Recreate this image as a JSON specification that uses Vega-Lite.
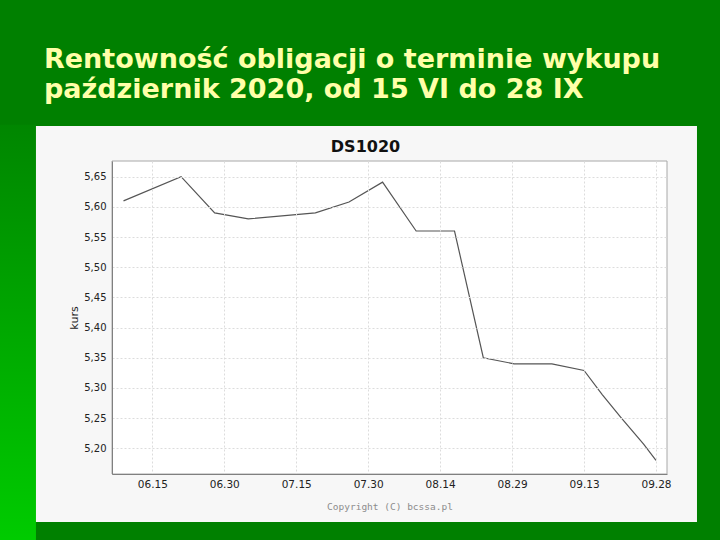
{
  "$schema": "https://vega.github.io/schema/vega-lite/v6.json",
  "width": 555,
  "height": 313,
  "autosize": {"type": "none"},
  "padding": {"left": 112, "top": 161, "right": 53, "bottom": 66},
  "background": "#008000",
  "config": {"view": {"stroke": null}},
  "title": {
    "text": ["Rentowność obligacji o terminie wykupu", "październik 2020, od 15 VI do 28 IX"],
    "anchor": "start",
    "frame": "group",
    "dx": -68,
    "dy": -21,
    "offset": 0,
    "font": "DejaVu Sans",
    "fontSize": 27,
    "fontWeight": "bold",
    "color": "#ffffa8",
    "lineHeight": 30
  },
  "datasets": {
    "notowania": [
      {"data": "2010-06-09T00:00:00", "kurs": 5.61},
      {"data": "2010-06-21T00:00:00", "kurs": 5.65},
      {"data": "2010-06-28T00:00:00", "kurs": 5.59},
      {"data": "2010-07-05T00:00:00", "kurs": 5.58},
      {"data": "2010-07-19T00:00:00", "kurs": 5.59},
      {"data": "2010-07-26T00:00:00", "kurs": 5.608},
      {"data": "2010-08-02T00:00:00", "kurs": 5.641},
      {"data": "2010-08-09T00:00:00", "kurs": 5.56},
      {"data": "2010-08-17T00:00:00", "kurs": 5.56},
      {"data": "2010-08-23T00:00:00", "kurs": 5.35},
      {"data": "2010-08-29T10:00:00", "kurs": 5.34},
      {"data": "2010-09-06T07:00:00", "kurs": 5.34},
      {"data": "2010-09-13T00:00:00", "kurs": 5.329},
      {"data": "2010-09-16T19:00:00", "kurs": 5.289},
      {"data": "2010-09-20T17:00:00", "kurs": 5.251},
      {"data": "2010-09-25T10:00:00", "kurs": 5.207},
      {"data": "2010-09-28T00:00:00", "kurs": 5.18}
    ]
  },
  "layer": [
    {
      "data": {"values": [{}]},
      "mark": {
        "type": "rect",
        "fill": {
          "gradient": "linear",
          "x1": 0, "y1": 0, "x2": 0, "y2": 1,
          "stops": [
            {"offset": 0, "color": "#008600"},
            {"offset": 1, "color": "#00cc00"}
          ]
        }
      },
      "encoding": {
        "x": {
          "datum": {"year": 2010, "month": 5, "date": 13},
          "type": "temporal",
          "scale": {"domain": [{"year": 2010, "month": 6, "date": 6, "hours": 14, "minutes": 24}, {"year": 2010, "month": 9, "date": 30, "hours": 7}]},
          "axis": null
        },
        "x2": {"datum": {"year": 2010, "month": 5, "date": 21, "hours": 18}},
        "y": {
          "datum": 5.736,
          "type": "quantitative",
          "scale": {"domain": [5.1574, 5.676], "nice": false, "zero": false},
          "axis": null
        },
        "y2": {"datum": 5.04}
      }
    },
    {
      "data": {"values": [{}]},
      "mark": {"type": "rect", "fill": "#f7f7f7"},
      "encoding": {
        "x": {
          "datum": {"year": 2010, "month": 5, "date": 21, "hours": 18},
          "type": "temporal",
          "scale": {"domain": [{"year": 2010, "month": 6, "date": 6, "hours": 14, "minutes": 24}, {"year": 2010, "month": 9, "date": 30, "hours": 7}]},
          "axis": {
            "orient": "top",
            "title": "DS1020",
            "labels": false,
            "ticks": false,
            "domain": false,
            "grid": false,
            "titleFont": "DejaVu Sans",
            "titleFontSize": 16,
            "titleFontWeight": "bold",
            "titleColor": "#111111",
            "titleX": 253,
            "titleY": -10,
            "titleBaseline": "alphabetic",
            "titleAlign": "center",
            "zindex": 1
          }
        },
        "x2": {"datum": {"year": 2010, "month": 10, "date": 6, "hours": 13}},
        "y": {
          "datum": 5.734,
          "type": "quantitative",
          "scale": {"domain": [5.1574, 5.676], "nice": false, "zero": false},
          "axis": null
        },
        "y2": {"datum": 5.078}
      }
    },
    {
      "data": {"values": [{}]},
      "mark": {"type": "rect", "fill": "#ffffff", "stroke": "#a8a8a8", "strokeWidth": 1},
      "encoding": {
        "x": {
          "datum": {"year": 2010, "month": 6, "date": 6, "hours": 14, "minutes": 24},
          "type": "temporal",
          "scale": {"domain": [{"year": 2010, "month": 6, "date": 6, "hours": 14, "minutes": 24}, {"year": 2010, "month": 9, "date": 30, "hours": 7}]},
          "axis": null
        },
        "x2": {"datum": {"year": 2010, "month": 9, "date": 30, "hours": 7}},
        "y": {
          "datum": 5.676,
          "type": "quantitative",
          "scale": {"domain": [5.1574, 5.676], "nice": false, "zero": false},
          "axis": null
        },
        "y2": {"datum": 5.1574}
      }
    },
    {
      "data": {"name": "notowania"},
      "mark": {"type": "line", "color": "#555555", "strokeWidth": 1.2},
      "encoding": {
        "x": {
          "field": "data",
          "type": "temporal",
          "scale": {"domain": [{"year": 2010, "month": 6, "date": 6, "hours": 14, "minutes": 24}, {"year": 2010, "month": 9, "date": 30, "hours": 7}]},
          "axis": {
            "orient": "bottom",
            "values": [
              {"year": 2010, "month": 6, "date": 15},
              {"year": 2010, "month": 6, "date": 30},
              {"year": 2010, "month": 7, "date": 15},
              {"year": 2010, "month": 7, "date": 30},
              {"year": 2010, "month": 8, "date": 14},
              {"year": 2010, "month": 8, "date": 29},
              {"year": 2010, "month": 9, "date": 13},
              {"year": 2010, "month": 9, "date": 28}
            ],
            "format": "%m.%d",
            "labelFont": "DejaVu Sans",
            "labelFontSize": 10.5,
            "labelColor": "#222222",
            "labelPadding": 5,
            "labelFlush": false,
            "labelOverlap": false,
            "ticks": false,
            "domain": true,
            "domainColor": "#808080",
            "grid": true,
            "gridColor": "#dcdcdc",
            "gridDash": [2, 2],
            "title": "Copyright (C) bcssa.pl",
            "titleFont": "DejaVu Sans Mono",
            "titleFontSize": 9.5,
            "titleFontWeight": "normal",
            "titleColor": "#8c8c8c",
            "titlePadding": 12,
            "zindex": 1
          }
        },
        "y": {
          "field": "kurs",
          "type": "quantitative",
          "scale": {"domain": [5.1574, 5.676], "nice": false, "zero": false},
          "axis": {
            "values": [5.2, 5.25, 5.3, 5.35, 5.4, 5.45, 5.5, 5.55, 5.6, 5.65],
            "labelExpr": "replace(format(datum.value, '.2f'), '.', ',')",
            "labelFont": "DejaVu Sans",
            "labelFontSize": 10,
            "labelColor": "#222222",
            "labelPadding": 6,
            "ticks": false,
            "domain": true,
            "domainColor": "#808080",
            "grid": true,
            "gridColor": "#dcdcdc",
            "gridDash": [2, 2],
            "title": "kurs",
            "titleFont": "DejaVu Sans",
            "titleFontSize": 11,
            "titleFontWeight": "normal",
            "titleColor": "#222222",
            "titlePadding": 4,
            "zindex": 1
          }
        }
      }
    }
  ],
  "resolve": {"axis": {"x": "independent", "y": "independent"}}
}
